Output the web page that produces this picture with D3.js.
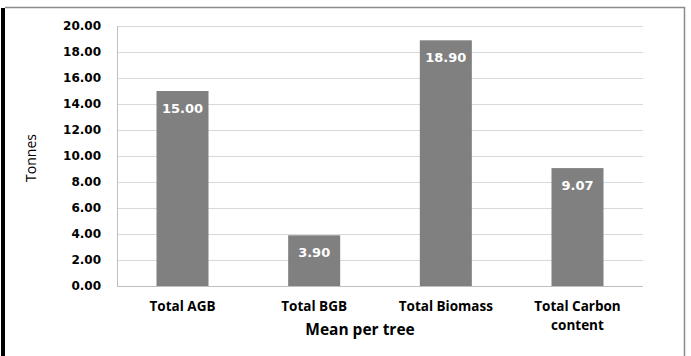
<!DOCTYPE html>
<html><head><meta charset="utf-8">
<script src="https://cdn.jsdelivr.net/npm/d3@7"></script>
<style>body{margin:0;background:#fff}svg{display:block}</style>
</head><body>
<svg id="c" width="691" height="356"></svg>
<script>
const categories = [["Total AGB"], ["Total BGB"], ["Total Biomass"], ["Total Carbon", "content"]];
const values = [15.00, 3.90, 18.90, 9.07];
const valueLabels = ["15.00", "3.90", "18.90", "9.07"];
const yTicks = [0, 2, 4, 6, 8, 10, 12, 14, 16, 18, 20];
const xTitle = "Mean per tree";
const yTitle = "Tonnes";

const svg = d3.select("#c");
const W = 691, H = 356;
const m = {left: 117, right: 691 - 643, top: 26, bottom: 356 - 286};

// frame
svg.append("rect").attr("x", 1).attr("y", 8).attr("width", 4).attr("height", H).attr("fill", "#000");
svg.append("line").attr("x1", 5).attr("x2", 685).attr("y1", 7.5).attr("y2", 7.5).attr("stroke", "#8c8c8c").attr("stroke-width", 1.5);
svg.append("line").attr("x1", 684.5).attr("x2", 684.5).attr("y1", 7).attr("y2", H).attr("stroke", "#8c8c8c").attr("stroke-width", 1.5);

const x = d3.scaleBand().domain(categories.map(d => d.join(" "))).range([m.left, W - m.right]).paddingInner(0.605).paddingOuter(0.3);
const y = d3.scaleLinear().domain([0, 20]).range([H - m.bottom, m.top]);

const g = svg.append("g");
const yAxis = d3.axisLeft(y).tickValues(yTicks).tickSize(-(W - m.right - m.left)).tickFormat(d3.format(".2f")).tickPadding(16);
const ya = g.append("g").attr("transform", `translate(${m.left},0)`).call(yAxis);
ya.select(".domain").remove();
ya.selectAll(".tick line").attr("stroke", "#d9d9d9").attr("stroke-width", 1);
ya.selectAll(".tick text").attr("font-family", "DejaVu Sans").attr("font-weight", "bold").attr("font-size", 12).attr("fill", "#000");

g.append("line").attr("x1", m.left + 0.5).attr("x2", m.left + 0.5).attr("y1", m.top).attr("y2", y(0)).attr("stroke", "#bfbfbf");
g.append("line").attr("x1", m.left).attr("x2", W - m.right).attr("y1", y(0) + 0.5).attr("y2", y(0) + 0.5).attr("stroke", "#bfbfbf");

g.selectAll(".bar").data(values).join("rect")
  .attr("x", (d, i) => x(categories[i].join(" ")))
  .attr("width", x.bandwidth())
  .attr("y", d => y(d))
  .attr("height", d => y(0) - y(d))
  .attr("fill", "#808080");

g.selectAll(".vl").data(values).join("text")
  .attr("x", (d, i) => x(categories[i].join(" ")) + x.bandwidth() / 2)
  .attr("y", d => y(d) + 21.5)
  .attr("text-anchor", "middle")
  .attr("font-family", "DejaVu Sans").attr("font-weight", "bold").attr("font-size", 13)
  .attr("fill", "#fff")
  .text((d, i) => valueLabels[i]);

categories.forEach((lines, i) => {
  const cx = x(lines.join(" ")) + x.bandwidth() / 2;
  lines.forEach((l, j) => g.append("text")
    .attr("x", cx).attr("y", 311 + j * 18.5)
    .attr("text-anchor", "middle")
    .attr("font-family", "Open Sans").attr("font-weight", "bold").attr("font-size", 13.5)
    .attr("fill", "#000").text(l));
});

svg.append("text").attr("x", 360).attr("y", 335)
  .attr("text-anchor", "middle").attr("font-family", "Open Sans").attr("font-weight", "bold").attr("font-size", 15.5).attr("fill", "#000").text(xTitle);

svg.append("text").attr("transform", "translate(36,158) rotate(-90)")
  .attr("text-anchor", "middle").attr("font-family", "Open Sans").attr("font-size", 14).attr("fill", "#000").text(yTitle);
</script>
</body></html>
